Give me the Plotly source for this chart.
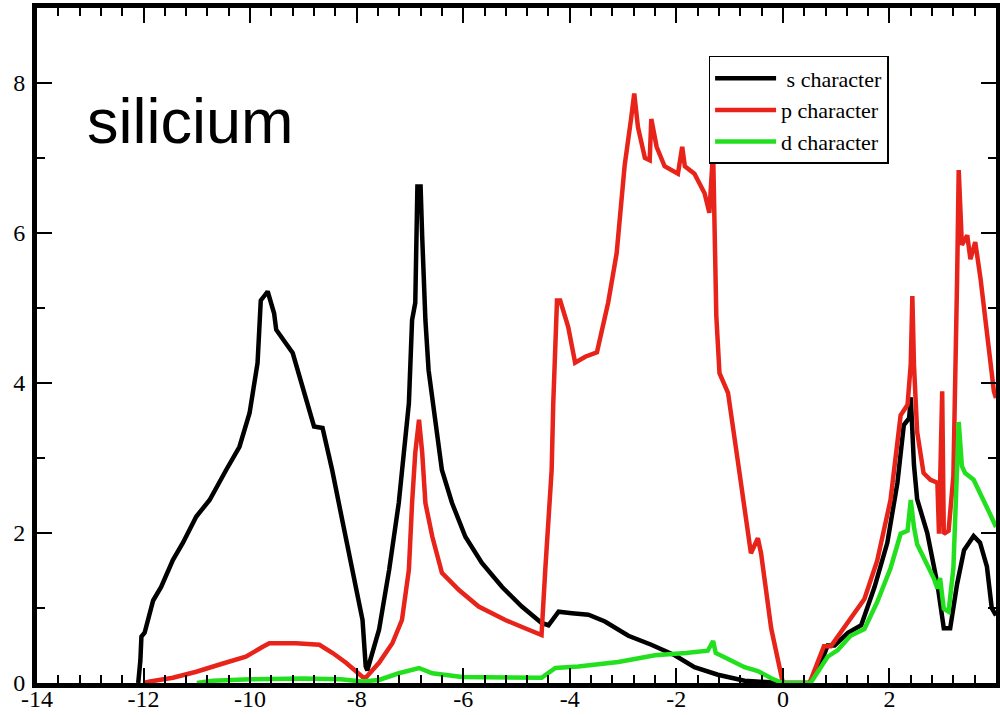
import plotly.graph_objects as go

# ---- data ----
s_x = [-12.10, -12.06, -12.04, -11.98, -11.82, -11.67, -11.45, -11.26, -11.01, -10.76, -10.45,
       -10.20, -10.01, -9.86, -9.80, -9.67, -9.55, -9.51, -9.20, -9.02, -8.80, -8.64, -8.46,
       -8.27, -8.08, -7.89, -7.83, -7.80, -7.58, -7.39, -7.21, -7.02, -6.96, -6.90, -6.86,
       -6.80, -6.77, -6.71, -6.65, -6.52, -6.40, -6.21, -5.96, -5.65, -5.27, -4.90, -4.53,
       -4.40, -4.21, -3.96, -3.65, -3.34, -2.90, -2.47, -2.03, -1.66, -1.22, -0.72, -0.23,
       0.00, 0.50, 0.72, 0.84, 0.97, 1.22, 1.47, 1.72, 1.96, 2.15, 2.27, 2.37, 2.40, 2.46,
       2.52, 2.71, 2.90, 3.02, 3.14, 3.27, 3.40, 3.58, 3.70, 3.83, 3.92, 4.00]
s_y = [0.00, 0.30, 0.62, 0.67, 1.10, 1.28, 1.64, 1.87, 2.22, 2.44, 2.84,
       3.15, 3.60, 4.27, 5.10, 5.22, 4.93, 4.71, 4.40, 3.95, 3.42, 3.40, 2.84,
       2.17, 1.50, 0.84, 0.22, 0.17, 0.71, 1.51, 2.40, 3.73, 4.84, 5.07, 6.62,
       6.62, 5.95, 4.84, 4.17, 3.51, 2.84, 2.40, 1.95, 1.60, 1.28, 1.02, 0.80,
       0.77, 0.95, 0.93, 0.91, 0.82, 0.63, 0.51, 0.37, 0.21, 0.11, 0.03, 0.00,
       0.00, 0.00, 0.28, 0.50, 0.50, 0.67, 0.77, 1.28, 1.87, 2.67, 3.44, 3.53, 3.81, 2.91,
       2.45, 2.00, 1.32, 0.73, 0.73, 1.32, 1.77, 1.96, 1.87, 1.55, 1.00, 0.90]

p_x = [-12.00, -11.88, -11.45, -11.01, -10.51, -10.08, -9.77, -9.64, -9.14, -8.70, -8.45,
       -8.20, -7.89, -7.83, -7.58, -7.33, -7.15, -7.02, -6.96, -6.90, -6.83, -6.77, -6.71,
       -6.58, -6.40, -6.08, -5.71, -5.21, -4.84, -4.53, -4.46, -4.34, -4.31, -4.24, -4.18,
       -4.03, -3.90, -3.71, -3.49, -3.28, -3.12, -3.09, -2.97, -2.85, -2.79, -2.72, -2.59,
       -2.50, -2.47, -2.37, -2.22, -1.97, -1.89, -1.84, -1.66, -1.47, -1.38, -1.31, -1.28,
       -1.25, -1.19, -1.03, -0.85, -0.72, -0.60, -0.47, -0.41, -0.22, 0.00, 0.50, 0.77,
       0.90, 1.21, 1.53, 1.77, 2.02, 2.21, 2.34, 2.40, 2.43, 2.46, 2.52, 2.64, 2.77, 2.90,
       2.93, 2.99, 3.02, 3.11, 3.20, 3.27, 3.30, 3.36, 3.46, 3.52, 3.61, 3.71, 3.83, 3.96, 4.00]
p_y = [0.00, 0.02, 0.07, 0.15, 0.26, 0.35, 0.48, 0.53, 0.53, 0.51, 0.40,
       0.27, 0.08, 0.07, 0.27, 0.53, 0.84, 1.51, 2.40, 3.07, 3.51, 3.07, 2.40,
       1.95, 1.47, 1.24, 1.02, 0.84, 0.73, 0.64, 1.51, 2.84, 3.73, 5.10, 5.10,
       4.75, 4.27, 4.35, 4.41, 5.07, 5.73, 6.00, 6.90, 7.52, 7.86, 7.41, 7.00,
       6.97, 7.52, 7.15, 6.89, 6.79, 7.15, 6.89, 6.79, 6.53, 6.27, 7.10, 6.27,
       4.90, 4.13, 3.87, 2.98, 2.30, 1.73, 1.93, 1.73, 0.73, 0.00, 0.00, 0.49,
       0.49, 0.80, 1.12, 1.63, 2.44, 3.57, 3.71, 4.25, 5.16, 4.25, 3.35, 2.80, 2.71, 2.67,
       1.99, 3.89, 1.99, 2.03, 2.76, 5.39, 6.84, 5.84, 5.97, 5.65, 5.88, 5.39, 4.71, 3.89, 3.80]

d_x = [-11.00, -10.70, -10.00, -9.00, -8.30, -7.90, -7.58, -7.21, -6.83, -6.58, -6.02,
       -5.40, -4.53, -4.27, -3.84, -3.09, -2.40, -1.82, -1.41, -1.31, -1.26, -1.03, -0.72,
       -0.47, -0.21, 0.00, 0.52, 0.84, 1.03, 1.27, 1.53, 1.77, 2.02, 2.21, 2.34, 2.40,
       2.46, 2.52, 2.71, 2.83, 2.90, 2.95, 3.02, 3.11, 3.20, 3.27, 3.30, 3.36, 3.42, 3.58,
       3.71, 3.89, 4.00]
d_y = [0.00, 0.03, 0.05, 0.06, 0.05, 0.02, 0.04, 0.13, 0.20, 0.13, 0.08,
       0.07, 0.07, 0.20, 0.22, 0.28, 0.37, 0.40, 0.43, 0.56, 0.40, 0.32, 0.21,
       0.16, 0.06, 0.00, 0.00, 0.35, 0.44, 0.63, 0.72, 1.08, 1.53, 1.99, 2.03, 2.44,
       2.08, 1.85, 1.57, 1.40, 1.26, 1.40, 0.99, 0.95, 1.53, 2.67, 3.48, 2.89, 2.80, 2.71,
       2.53, 2.25, 2.08]

series_names = ["\u00a0s character", "p character", "d character"]
series_colors = ["#000000", "#e8231a", "#22e01e"]

x_tickvals = [-14, -12, -10, -8, -6, -4, -2, 0, 2, 4]
x_ticktext = ["-14", "-12", "-10", "-8", "-6", "-4", "-2", "0", "2", "4"]
y_tickvals = [0, 2, 4, 6, 8]
y_ticktext = ["0", "2", "4", "6", "8"]

# ---- figure ----
fig = go.Figure()
for xs, ys, name, col in zip([s_x, p_x, d_x], [s_y, p_y, d_y], series_names, series_colors):
    fig.add_trace(go.Scatter(x=xs, y=ys, mode="lines", name=name,
                             line=dict(color=col, width=4.5)))

serif = "Liberation Serif"
axis_common = dict(
    showline=True, linecolor="black", linewidth=5, mirror="ticks",
    ticks="inside", ticklen=15, tickwidth=2, tickcolor="black",
    showgrid=False, zeroline=False, automargin=False,
    tickfont=dict(family=serif, size=24, color="black"),
)
fig.update_xaxes(range=[-14, 4], tickvals=x_tickvals, ticktext=x_ticktext,
                 ticklabelstandoff=-10,
                 minor=dict(ticks="inside", ticklen=8, tickwidth=2, tickcolor="black",
                            dtick=0.4, tick0=-14, showgrid=False),
                 **axis_common)
fig.update_yaxes(range=[0, 9], tickvals=y_tickvals, ticktext=y_ticktext,
                 ticklabelstandoff=2,
                 minor=dict(ticks="inside", ticklen=8, tickwidth=2, tickcolor="black",
                            dtick=1, tick0=0, showgrid=False),
                 **axis_common)

fig.add_annotation(text="silicium", xref="paper", yref="paper", x=0.05, y=0.832,
                   xanchor="left", yanchor="middle", showarrow=False,
                   font=dict(family="Liberation Sans", size=63, color="black"))

fig.update_layout(
    width=1000, height=715,
    margin=dict(l=37, r=4, t=8, b=32),
    paper_bgcolor="white", plot_bgcolor="white",
    showlegend=True,
    legend=dict(x=0.7003, y=0.9289, xanchor="left", yanchor="top",
                bgcolor="white", bordercolor="black", borderwidth=1.5,
                itemwidth=61,
                font=dict(family=serif, size=22, color="black")),
)

fig.write_html("out.html",
               config={"displayModeBar": False},
               post_script="document.body.style.margin='0px';"
                           "document.body.style.overflow='hidden';")
